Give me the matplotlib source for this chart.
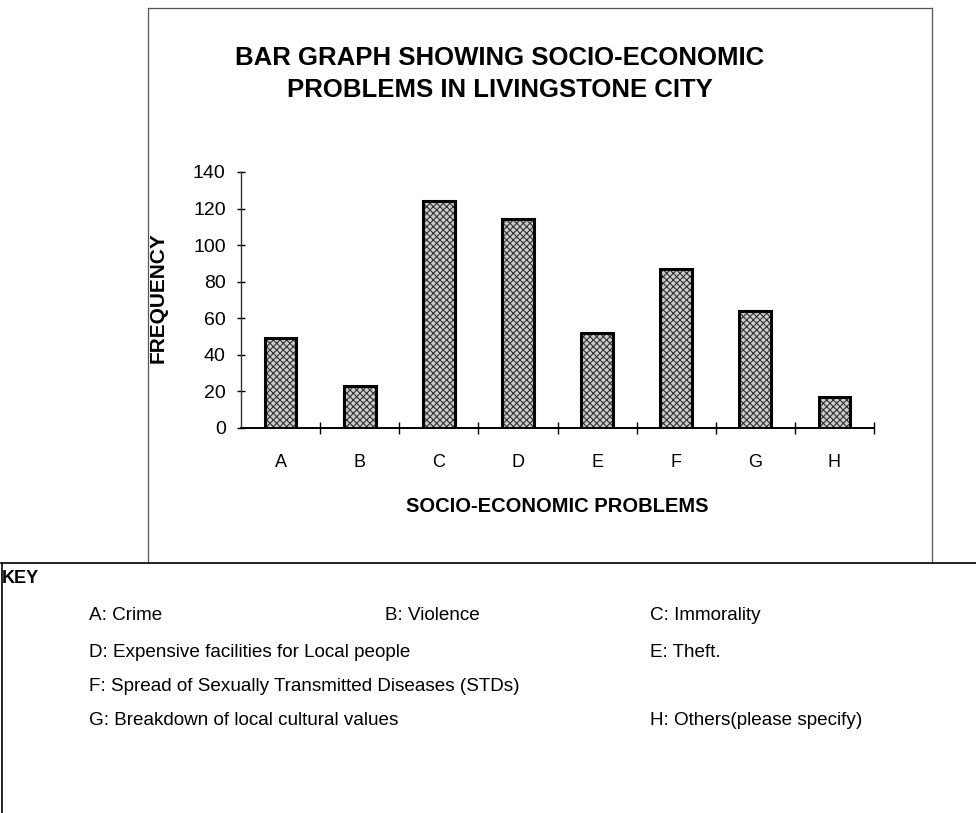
import matplotlib
matplotlib.use("Agg")
import matplotlib.pyplot as plt
import numpy as np

plt.rcParams['font.family'] = ['Liberation Sans', 'DejaVu Sans']
plt.rcParams['hatch.linewidth'] = 0.8

categories = ["A", "B", "C", "D", "E", "F", "G", "H"]
frequency = [49, 23, 124, 114, 52, 87, 64, 17]
y_ticks = [0, 20, 40, 60, 80, 100, 120, 140]

title_lines = ["BAR GRAPH SHOWING SOCIO-ECONOMIC", "PROBLEMS IN LIVINGSTONE CITY"]
x_label = "SOCIO-ECONOMIC PROBLEMS"
y_label = "FREQUENCY"

key_rows = [
    [("A: Crime", 89), ("B: Violence", 385), ("C: Immorality", 650)],
    [("D: Expensive facilities for Local people", 89), ("E: Theft.", 650)],
    [("F: Spread of Sexually Transmitted Diseases (STDs)", 89)],
    [("G: Breakdown of local cultural values", 89), ("H: Others(please specify)", 650)],
]

W, H = 976, 813
fig = plt.figure(figsize=(W / 100, H / 100), dpi=100)
fig.patch.set_facecolor("white")

def fx(px):
    return px / W

def fy(py):
    return 1 - py / H

ax_left, ax_right, ax_top, ax_bottom = 241, 874, 172, 427.7
ax = fig.add_axes([fx(ax_left), fy(ax_bottom), fx(ax_right) - fx(ax_left),
                   fy(ax_top) - fy(ax_bottom)])
x = np.arange(len(categories))

# stippled fill, then the heavy outline on top
ax.bar(x, frequency, width=0.4, color="#cccccc", edgecolor="#333333",
       hatch="xxxxx", linewidth=0, zorder=2)
ax.bar(x, frequency, width=0.4, fill=False, edgecolor="black",
       linewidth=2.2, zorder=3)

ax.set_xlim(-0.5, len(categories) - 0.5)
ax.set_ylim(0, 140)
ax.set_yticks(y_ticks)
ax.set_yticklabels([str(v) for v in y_ticks], fontsize=14)
ax.set_xticks(x)
ax.set_xticklabels(categories, fontsize=13)
ax.set_xticks(np.arange(len(categories)) + 0.5, minor=True)
ax.tick_params(axis="x", which="major", length=0, pad=19)
ax.tick_params(axis="x", which="minor", direction="inout", length=9, width=1)
ax.tick_params(axis="y", direction="inout", length=6, width=1, pad=8)

for side in ("top", "right"):
    ax.spines[side].set_visible(False)
ax.spines["left"].set_linewidth(1.0)
ax.spines["left"].set_color("#333333")
ax.spines["bottom"].set_linewidth(1.4)

span_x = ax_right - ax_left
span_y = ax_bottom - ax_top
ax.set_xlabel(x_label, fontsize=14.5, fontweight="bold")
ax.xaxis.set_label_coords(0.5, (ax_bottom - 497) / span_y)
ax.set_ylabel(y_label, fontsize=15, fontweight="bold")
ax.yaxis.set_label_coords((168 - ax_left) / span_x, (ax_bottom - 298) / span_y)

for line, yy in zip(title_lines, [58, 90]):
    fig.text(fx(500), fy(yy), line, ha="center", va="center",
             fontsize=18.5, fontweight="bold")

# outline of the chart area
frame = dict(color="#555555", linewidth=0.9, transform=fig.transFigure)
fig.add_artist(plt.Line2D([fx(148), fx(932)], [fy(8), fy(8)], **frame))
fig.add_artist(plt.Line2D([fx(932), fx(932)], [fy(8), fy(563)], **frame))
fig.add_artist(plt.Line2D([fx(148), fx(148)], [fy(8), fy(563)], **frame))

# key box
keyline = dict(color="black", linewidth=1.2, transform=fig.transFigure)
fig.add_artist(plt.Line2D([fx(1), fx(976)], [fy(563), fy(563)], **keyline))
fig.add_artist(plt.Line2D([fx(1.5), fx(1.5)], [fy(563), fy(813)], **keyline))

fig.text(fx(2), fy(578), "KEY", ha="left", va="center", fontsize=13,
         fontweight="bold")
row_y = [616, 652, 686, 720]
for row, yy in zip(key_rows, row_y):
    for label, xx in row:
        fig.text(fx(xx), fy(yy), label, ha="left", va="center", fontsize=13.6)

fig.savefig("out.png", dpi=100, facecolor="white")
